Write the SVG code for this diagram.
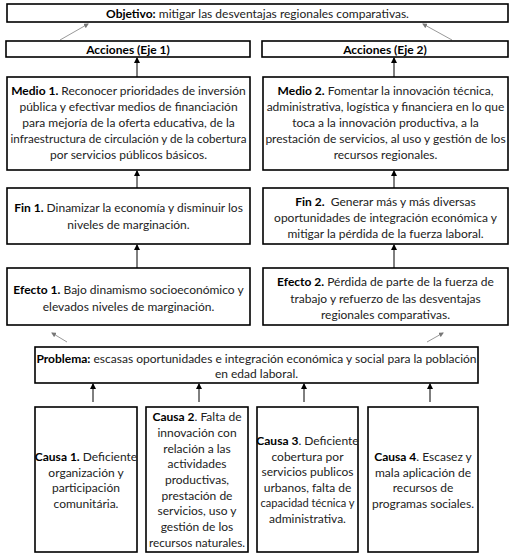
<svg xmlns="http://www.w3.org/2000/svg" width="515" height="558" viewBox="0 0 515 558">
<style>
.box{fill:#fff;stroke:#000;stroke-width:1.6}
.t{font-family:Lato,"Liberation Sans",sans-serif;font-size:12px;fill:#222;text-anchor:middle}
.b{font-weight:bold;fill:#000}
.c{stroke:#000;stroke-width:1;fill:none}
.g{stroke:#999;stroke-width:1;fill:none}
</style>
<defs>
<marker id="ah" markerUnits="userSpaceOnUse" markerWidth="6" markerHeight="6" refX="5" refY="3" orient="auto"><path d="M0,0 L6,3 L0,6 Z" fill="#000"/></marker>
<marker id="ag" markerUnits="userSpaceOnUse" markerWidth="5" markerHeight="5" refX="4" refY="2.5" orient="auto"><path d="M0,0 L5,2.5 L0,5 Z" fill="#777"/></marker>
</defs>
<rect width="515" height="558" fill="#fff"/>
<g id="connectors">
<line class="g" x1="60" y1="40" x2="88" y2="24" marker-end="url(#ag)"/>
<line class="g" x1="452" y1="40" x2="423" y2="24" marker-end="url(#ag)"/>
<line class="c" x1="137" y1="77" x2="137" y2="58" marker-end="url(#ah)"/>
<line class="c" x1="394" y1="77" x2="394" y2="58" marker-end="url(#ah)"/>
<line class="c" x1="137" y1="188" x2="137" y2="171" marker-end="url(#ah)"/>
<line class="c" x1="394" y1="188" x2="394" y2="171" marker-end="url(#ah)"/>
<line class="c" x1="137" y1="268" x2="137" y2="245" marker-end="url(#ah)"/>
<line class="c" x1="394" y1="268" x2="394" y2="245" marker-end="url(#ah)"/>
<line class="g" x1="67" y1="342" x2="52" y2="333" marker-end="url(#ag)"/>
<line class="g" x1="427" y1="342" x2="443" y2="333" marker-end="url(#ag)"/>
<line class="c" x1="93" y1="402" x2="93" y2="384" marker-end="url(#ah)"/>
<line class="c" x1="199" y1="402" x2="199" y2="384" marker-end="url(#ah)"/>
<line class="c" x1="304" y1="402" x2="304" y2="384" marker-end="url(#ah)"/>
<line class="c" x1="430" y1="402" x2="430" y2="384" marker-end="url(#ah)"/>
</g>
<g id="objetivo">
<rect class="box" x="7" y="4" width="501" height="18"/>
<text class="t" x="257.5" y="17.5"><tspan class="b">Objetivo:</tspan> mitigar las desventajas regionales comparativas.</text>
</g>
<g id="acciones1">
<rect class="box" x="6" y="41" width="244" height="16"/>
<text class="t b" x="128" y="53.5">Acciones (Eje 1)</text>
</g>
<g id="acciones2">
<rect class="box" x="262" y="41" width="246" height="16"/>
<text class="t b" x="385" y="53.5">Acciones (Eje 2)</text>
</g>
<g id="medio1">
<rect class="box" x="7" y="77" width="243" height="93"/>
<text class="t" x="128.5" y="95"><tspan class="b">Medio 1.</tspan> Reconocer prioridades de inversión</text>
<text class="t" x="128.5" y="111">pública y efectivar medios de financiación</text>
<text class="t" x="128.5" y="127">para mejoría de la oferta educativa, de la</text>
<text class="t" x="128.5" y="143" textLength="236" lengthAdjust="spacingAndGlyphs">infraestructura de circulación y de la cobertura</text>
<text class="t" x="128.5" y="158.5">por servicios públicos básicos.</text>
</g>
<g id="medio2">
<rect class="box" x="263" y="77" width="245" height="93"/>
<text class="t" x="385.5" y="95"><tspan class="b">Medio 2.</tspan> Fomentar la innovación técnica,</text>
<text class="t" x="385.5" y="111">administrativa, logística y financiera en lo que</text>
<text class="t" x="385.5" y="127">toca a la innovación productiva, a la</text>
<text class="t" x="385.5" y="143">prestación de servicios, al uso y gestión de los</text>
<text class="t" x="385.5" y="158.5">recursos regionales.</text>
</g>
<g id="fin1">
<rect class="box" x="7" y="188" width="243" height="56"/>
<text class="t" x="128.5" y="212"><tspan class="b">Fin 1.</tspan> Dinamizar la economía y disminuir los</text>
<text class="t" x="128.5" y="229">niveles de marginación.</text>
</g>
<g id="fin2">
<rect class="box" x="263" y="188" width="245" height="56"/>
<text class="t" x="385.5" y="206" xml:space="preserve"><tspan class="b">Fin 2.</tspan>  Generar más y más diversas</text>
<text class="t" x="385.5" y="222">oportunidades de integración económica y</text>
<text class="t" x="385.5" y="237.5">mitigar la pérdida de la fuerza laboral.</text>
</g>
<g id="efecto1">
<rect class="box" x="7" y="268" width="243" height="57"/>
<text class="t" x="128.5" y="294"><tspan class="b">Efecto 1.</tspan> Bajo dinamismo socioeconómico y</text>
<text class="t" x="128.5" y="311">elevados niveles de marginación.</text>
</g>
<g id="efecto2">
<rect class="box" x="263" y="268" width="245" height="57"/>
<text class="t" x="385.5" y="286"><tspan class="b">Efecto 2.</tspan> Pérdida de parte de la fuerza de</text>
<text class="t" x="385.5" y="302.5">trabajo y refuerzo de las desventajas</text>
<text class="t" x="385.5" y="319">regionales comparativas.</text>
</g>
<g id="problema">
<rect class="box" x="35" y="347" width="443" height="36"/>
<text class="t" x="256.5" y="363"><tspan class="b">Problema:</tspan> escasas oportunidades e integración económica y social para la población</text>
<text class="t" x="256.5" y="378">en edad laboral.</text>
</g>
<g id="causa1">
<rect class="box" x="35" y="407" width="102" height="145"/>
<text class="t" x="86" y="461"><tspan class="b">Causa 1.</tspan> Deficiente</text>
<text class="t" x="86" y="476.5">organización y</text>
<text class="t" x="86" y="492">participación</text>
<text class="t" x="86" y="507.5">comunitária.</text>
</g>
<g id="causa2">
<rect class="box" x="146" y="407" width="102" height="145"/>
<text class="t" x="197" y="421"><tspan class="b">Causa 2</tspan>. Falta de</text>
<text class="t" x="197" y="437">innovación con</text>
<text class="t" x="197" y="453">relación a las</text>
<text class="t" x="197" y="468">actividades</text>
<text class="t" x="197" y="484">productivas,</text>
<text class="t" x="197" y="500">prestación de</text>
<text class="t" x="197" y="515">servicios, uso y</text>
<text class="t" x="197" y="531">gestión de los</text>
<text class="t" x="197" y="547" textLength="96" lengthAdjust="spacingAndGlyphs">recursos naturales.</text>
</g>
<g id="causa3">
<rect class="box" x="257" y="407" width="101" height="145"/>
<text class="t" x="307.5" y="445"><tspan class="b">Causa 3</tspan>. Deficiente</text>
<text class="t" x="307.5" y="461">cobertura por</text>
<text class="t" x="307.5" y="476">servicios publicos</text>
<text class="t" x="307.5" y="491.5">urbanos, falta de</text>
<text class="t" x="307.5" y="507" textLength="94" lengthAdjust="spacingAndGlyphs">capacidad técnica y</text>
<text class="t" x="307.5" y="523">administrativa.</text>
</g>
<g id="causa4">
<rect class="box" x="368" y="407" width="110" height="145"/>
<text class="t" x="423" y="461"><tspan class="b">Causa 4</tspan>. Escasez y</text>
<text class="t" x="423" y="476.5">mala aplicación de</text>
<text class="t" x="423" y="492">recursos de</text>
<text class="t" x="423" y="507.5">programas sociales.</text>
</g>
</svg>
